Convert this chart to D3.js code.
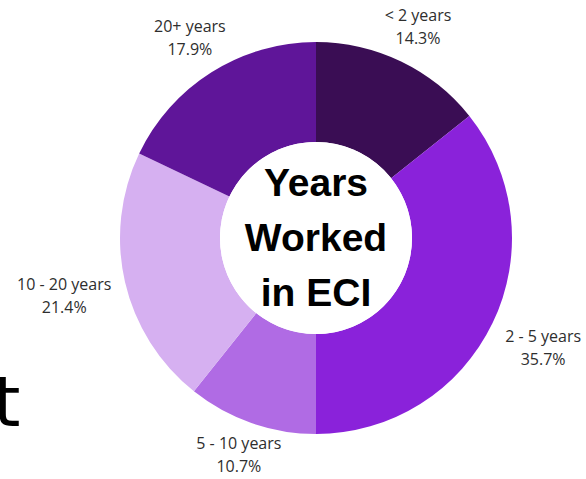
<!DOCTYPE html>
<html>
<head>
<meta charset="utf-8">
<script src="https://cdn.jsdelivr.net/npm/d3@7"></script>
<style>
  html, body { margin: 0; padding: 0; background: #ffffff; }
  svg { display: block; }
</style>
</head>
<body>
<svg id="chart" width="586" height="479"></svg>
<script>
// ---- data ----
const categories = ["< 2 years", "2 - 5 years", "5 - 10 years", "10 - 20 years", "20+ years"];
const values = [14.3, 35.7, 10.7, 21.4, 17.9];
const valueLabels = ["14.3%", "35.7%", "10.7%", "21.4%", "17.9%"];
const colors = ["#3a0d54", "#8a22da", "#b06be4", "#d6b0f1", "#5f1599"];
const centerLines = ["Years", "Worked", "in ECI"];

// ---- layout ----
const W = 586, H = 479;
const cx = 316, cy = 238;
const outerR = 196, innerR = 96;

const svg = d3.select("#chart");

// stray glyph from the cropped source image
svg.append("text")
  .attr("x", -7).attr("y", 426)
  .attr("font-family", "DejaVu Sans")
  .attr("font-size", 70)
  .attr("fill", "#000")
  .text("t");

const g = svg.append("g").attr("transform", `translate(${cx},${cy})`);

const pie = d3.pie().sort(null).value(d => d.v);
const data = categories.map((c, i) => ({ c, v: values[i], l: valueLabels[i], col: colors[i] }));
const arcs = pie(data);
const arc = d3.arc().innerRadius(innerR).outerRadius(outerR);

g.selectAll("path.slice")
  .data(arcs)
  .join("path")
  .attr("class", "slice")
  .attr("d", arc)
  .attr("fill", d => d.data.col);

// center white disc
g.append("circle").attr("r", innerR).attr("fill", "#fff");

// center text
const lineH = 55;
g.selectAll("text.center")
  .data(centerLines)
  .join("text")
  .attr("class", "center")
  .attr("text-anchor", "middle")
  .attr("x", 0)
  .attr("y", (d, i) => 13 + (i - 1) * lineH)
  .attr("font-family", "Liberation Sans, Arial, sans-serif")
  .attr("font-weight", "bold")
  .attr("font-size", 39)
  .attr("fill", "#000")
  .text(d => d);

// outside labels: placed along the mid-angle ray, box just outside the ring
const gap = 14;
const labG = g.selectAll("g.lab")
  .data(arcs)
  .join("g")
  .attr("class", "lab");

labG.each(function(d) {
  const sel = d3.select(this);
  const t = sel.append("text")
    .attr("text-anchor", "middle")
    .attr("font-family", "Open Sans, sans-serif")
    .attr("font-size", 16)
    .attr("fill", "#2e2e2e");
  t.append("tspan").attr("x", 0).attr("y", 0).text(d.data.c);
  t.append("tspan").attr("x", 0).attr("y", 23).text(d.data.l);
  const bb = t.node().getBBox();
  const hw = bb.width / 2, hh = bb.height / 2;
  const bcx = bb.x + hw, bcy = bb.y + hh;
  const a = (d.startAngle + d.endAngle) / 2;
  const s = Math.sin(a), c = Math.cos(a);
  const dist = Math.min(Math.abs(s) > 1e-6 ? hw / Math.abs(s) : Infinity,
                        Math.abs(c) > 1e-6 ? hh / Math.abs(c) : Infinity);
  const R = outerR + gap + dist;
  let px = R * s, py = -R * c;
  // keep the label box inside the picture
  const maxY = H - cy - 2 - hh, minY = -cy + 2 + hh;
  py = Math.max(minY, Math.min(maxY, py));
  sel.attr("transform", `translate(${px - bcx},${py - bcy})`);
});
</script>
</body>
</html>
